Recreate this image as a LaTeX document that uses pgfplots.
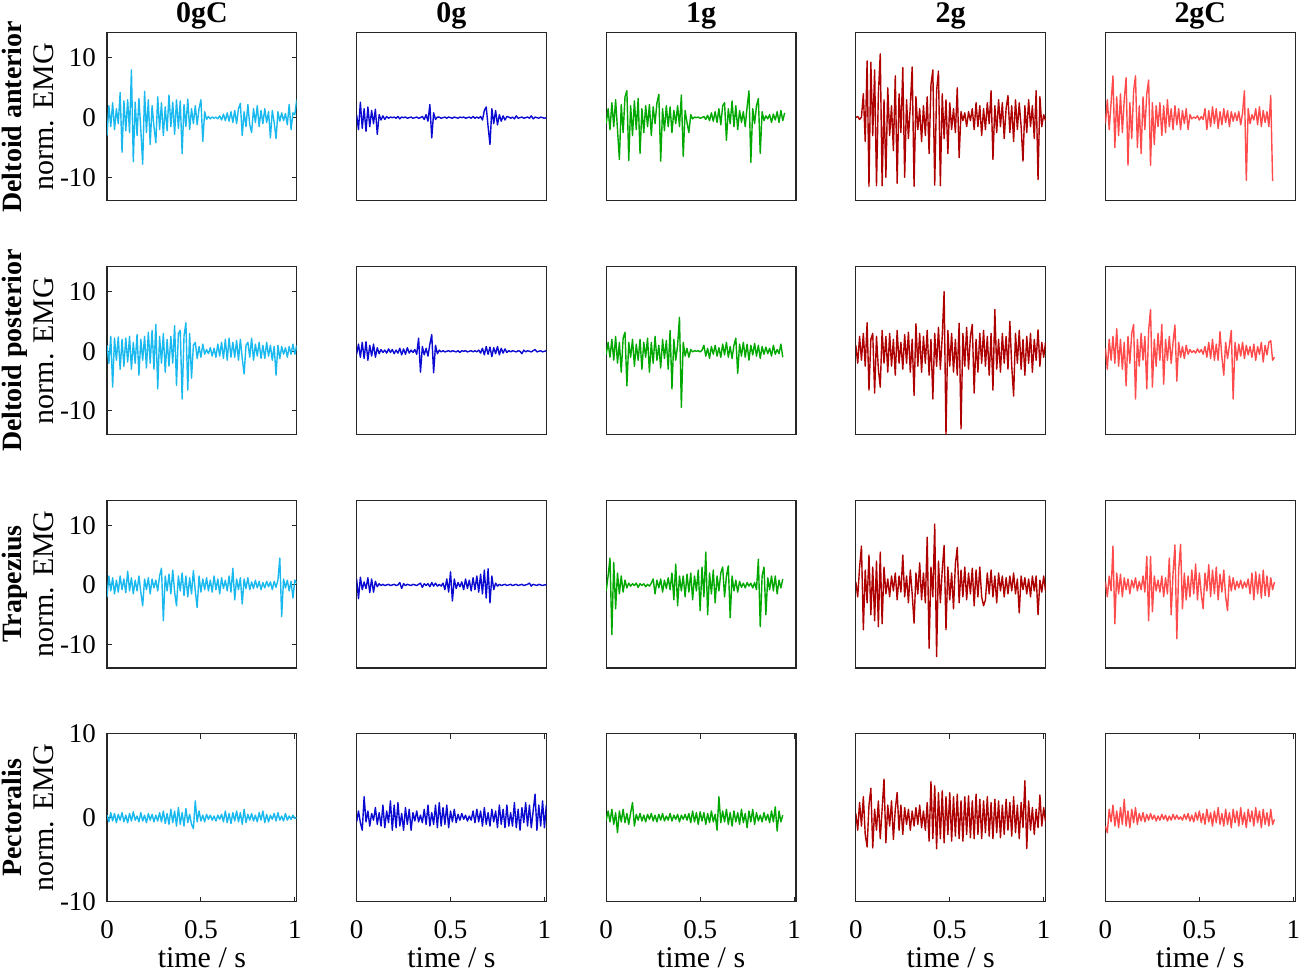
\documentclass[border=0pt]{standalone}
\usepackage{fontspec}
\setmainfont{Liberation Serif}
\usepackage{pgfplots}
\usepackage{pgfplotstable}
\pgfplotsset{compat=1.18}
\usepgfplotslibrary{groupplots}
\definecolor{cA}{RGB}{25,185,240}
\definecolor{cB}{RGB}{10,10,210}
\definecolor{cC}{RGB}{0,168,0}
\definecolor{cD}{RGB}{175,0,0}
\definecolor{cE}{RGB}{255,75,75}
\definecolor{axc}{RGB}{38,38,38}

\pgfplotstableread{
t a b c d e
0.00 -3.0 0.5 -1.0 0.0 -1.0
0.01 2.0 -2.0 1.5 0.2 3.0
0.02 -1.5 2.6 -2.0 -0.3 -2.0
0.03 2.5 -1.8 2.5 0.1 2.5
0.04 -2.0 1.5 -1.5 4.0 7.0
0.05 1.5 -2.3 3.0 -4.0 -5.0
0.06 -1.0 1.8 -2.0 9.5 3.5
0.07 4.2 -1.5 -7.0 -11.5 -3.0
0.08 -5.8 1.2 2.2 9.3 4.0
0.09 2.8 -1.0 -2.5 -3.0 -2.5
0.10 -2.2 1.4 3.5 8.0 3.0
0.11 3.0 -2.8 4.5 -11.4 6.7
0.12 -2.5 0.5 -7.2 4.0 -8.0
0.13 8.0 -0.4 2.0 10.7 2.5
0.14 -7.4 0.3 -3.0 -11.4 -3.5
0.15 2.6 -0.3 2.8 3.0 4.5
0.16 -3.0 0.2 -2.0 -10.0 7.0
0.17 3.2 -0.1 3.2 5.0 -5.0
0.18 -2.0 0.1 -6.0 -3.0 2.0
0.19 -7.8 0.0 1.5 2.0 -6.0
0.20 4.4 0.1 -2.5 -5.5 3.5
0.21 -2.5 -0.1 2.0 7.0 -2.0
0.22 3.0 0.2 -1.5 -11.0 4.0
0.23 -4.5 -0.2 2.2 4.0 6.3
0.24 2.0 0.1 -3.0 -2.5 -8.0
0.25 -1.5 0.0 1.8 8.4 2.5
0.26 -4.2 0.1 -1.0 -10.0 -4.5
0.27 3.5 -0.1 2.5 3.0 2.0
0.28 -2.0 0.0 3.9 -3.5 -1.5
0.29 2.5 0.1 -7.3 2.0 2.5
0.30 -3.0 -0.1 1.5 8.5 -3.0
0.31 1.8 0.0 -2.2 -11.5 2.0
0.32 -2.2 0.1 2.0 3.5 -2.5
0.33 3.8 -0.1 -1.5 -2.0 3.0
0.34 -1.5 0.0 1.8 1.5 -1.5
0.35 2.6 0.2 -2.5 -4.0 1.5
0.36 -2.8 -0.3 1.2 2.0 -2.0
0.37 3.0 0.5 -1.0 -3.0 2.0
0.38 -1.8 -0.6 2.0 3.5 -1.2
0.39 2.8 2.2 -1.5 -6.0 1.5
0.40 -6.0 -3.4 3.8 5.5 -2.0
0.41 2.2 0.8 -6.5 8.0 1.2
0.42 -1.5 -0.3 1.2 -11.3 -1.0
0.43 3.1 0.1 -0.8 4.5 1.5
0.44 -2.0 0.1 -2.5 7.8 -2.0
0.45 1.5 -0.1 0.5 -11.4 0.5
0.46 -1.0 0.0 -0.2 4.0 -0.2
0.47 2.0 0.1 0.1 -3.5 0.1
0.48 -1.2 -0.1 0.0 3.0 -0.1
0.49 1.5 0.1 0.1 -6.0 0.3
0.50 3.0 0.0 -0.1 2.5 -0.4
0.51 -4.0 -0.1 0.0 -2.0 0.2
0.52 1.0 0.1 0.2 1.5 -0.3
0.53 -0.3 0.0 -0.3 -2.5 1.5
0.54 0.2 -0.1 0.4 5.0 -2.0
0.55 -0.2 0.1 -0.5 -6.7 1.2
0.56 0.1 0.0 0.8 1.0 -1.5
0.57 -0.1 0.1 -0.6 -0.5 1.8
0.58 0.1 -0.1 1.0 0.8 -1.0
0.59 -0.2 0.0 -0.8 -1.5 1.5
0.60 0.3 0.1 1.5 1.0 -1.8
0.61 -0.4 -0.1 -1.2 -0.5 1.0
0.62 0.6 0.2 2.0 1.5 -1.2
0.63 -0.5 -0.1 2.5 -2.0 1.5
0.64 0.8 0.1 -3.8 2.5 -0.8
0.65 -0.6 -0.1 1.5 -1.5 1.2
0.66 1.0 0.2 -1.0 2.0 -1.5
0.67 -0.8 -0.4 2.8 -3.0 1.0
0.68 1.2 1.2 -1.5 1.5 -0.6
0.69 -1.0 1.8 2.0 -2.0 0.8
0.70 1.5 -1.5 -2.0 2.5 -0.5
0.71 2.4 -4.5 1.2 -1.0 1.0
0.72 -3.0 1.5 -0.8 4.5 -1.2
0.73 1.0 -1.0 1.0 -7.0 0.8
0.74 -1.5 1.2 -1.5 2.0 4.5
0.75 2.2 -1.2 1.8 -2.5 -10.5
0.76 -1.2 0.5 4.5 3.0 1.5
0.77 -2.5 -0.6 -7.5 -1.5 -1.0
0.78 1.5 0.3 1.5 2.5 0.5
0.79 -0.8 -0.4 -1.0 -3.5 -0.4
0.80 2.0 0.2 2.0 1.5 1.5
0.81 -1.5 0.1 3.2 3.7 -1.2
0.82 1.2 -0.1 -6.0 -2.5 1.8
0.83 -1.0 0.1 1.0 2.0 -1.5
0.84 1.5 -0.2 -0.5 -4.0 1.2
0.85 -0.8 0.3 0.3 3.0 -0.8
0.86 1.0 -0.1 -0.2 -2.0 1.0
0.87 -3.4 0.0 0.5 2.5 -1.5
0.88 1.2 0.1 -0.8 -1.5 3.7
0.89 -0.8 -0.1 0.6 -7.3 -10.6
0.90 -3.5 0.0 -0.4 2.0 nan
0.91 1.0 0.1 1.0 -2.5 nan
0.92 -0.6 -0.1 -0.8 3.0 nan
0.93 0.8 0.3 1.2 -1.5 nan
0.94 -0.5 -0.2 -0.5 2.0 nan
0.95 0.7 0.1 0.8 -3.5 nan
0.96 -1.2 0.0 nan 4.5 nan
0.97 2.2 -0.1 nan -10.4 nan
0.98 -2.0 0.1 nan 3.5 nan
0.99 0.8 0.0 nan -1.5 nan
1.00 0.5 -0.1 nan 0.5 nan
1.01 3.0 0.0 nan -0.5 nan
}\DA

\pgfplotstableread{
t a b c d e
0.00 1.0 -0.5 -0.5 1.0 0.5
0.01 -2.0 1.2 1.5 -2.0 -3.0
0.02 2.5 -1.0 -1.0 2.5 2.0
0.03 -6.0 1.5 2.0 -1.5 -1.5
0.04 2.2 -1.2 -1.5 3.0 2.5
0.05 -1.5 1.6 2.5 -2.5 -2.0
0.06 2.4 -1.5 -2.0 4.8 3.8
0.07 -3.0 1.0 1.5 -6.5 -2.5
0.08 2.0 -0.8 -3.5 2.0 2.0
0.09 -2.5 1.2 2.2 3.0 -3.0
0.10 2.2 -1.0 3.2 -7.0 1.5
0.11 -1.8 0.6 -5.8 2.5 -5.8
0.12 2.5 -0.4 1.5 -3.0 2.5
0.13 -3.0 0.3 -1.0 -6.0 -2.0
0.14 1.5 -0.2 2.0 3.5 3.0
0.15 -2.0 0.2 -2.5 -2.0 4.5
0.16 2.8 -0.3 1.2 2.5 -8.0
0.17 -4.0 0.4 -1.5 -3.5 2.0
0.18 2.0 -0.2 2.0 3.0 -2.5
0.19 -1.5 0.3 -3.0 -2.5 3.0
0.20 2.5 -0.4 1.5 2.0 -1.5
0.21 -2.8 0.2 -1.0 -4.0 2.5
0.22 3.2 -0.3 2.2 3.5 -6.3
0.23 -2.0 0.5 -3.5 -2.0 3.5
0.24 3.5 -0.6 1.5 1.5 7.0
0.25 -3.0 0.4 -2.0 -3.0 -6.0
0.26 4.5 -0.5 2.5 2.8 2.0
0.27 -6.3 0.6 -1.5 -2.0 -2.5
0.28 2.5 -0.3 1.0 3.2 3.0
0.29 -2.0 0.2 -2.8 -3.5 -1.5
0.30 3.0 -0.2 2.0 2.0 4.5
0.31 -3.5 0.3 -1.2 -7.4 -5.5
0.32 2.0 -0.5 1.8 4.6 2.0
0.33 -2.5 2.2 -3.0 -2.5 -1.5
0.34 2.5 -3.5 3.5 3.0 2.5
0.35 -2.0 0.8 -6.3 -3.5 -2.0
0.36 4.3 -0.6 2.0 2.5 1.5
0.37 -5.7 0.5 -1.5 -2.0 4.4
0.38 3.0 -0.8 1.0 3.5 -5.0
0.39 3.5 1.2 5.7 -4.0 1.5
0.40 -8.0 2.8 -9.4 2.0 -1.0
0.41 2.5 -3.6 1.5 -8.0 0.8
0.42 4.8 1.0 -0.8 3.0 -1.2
0.43 -6.5 -0.4 0.5 -2.5 1.0
0.44 3.0 0.2 -1.0 4.0 -0.5
0.45 -4.5 -0.1 0.3 -3.0 0.3
0.46 1.0 0.1 -0.1 2.5 -0.2
0.47 1.5 -0.1 0.1 10.0 0.1
0.48 -1.2 0.0 0.0 -14.0 -0.3
0.49 0.8 0.1 0.1 3.5 0.4
0.50 -1.0 -0.1 -0.1 -2.5 -0.2
0.51 1.2 0.1 0.2 3.0 0.3
0.52 -0.5 0.0 1.0 -3.5 -0.5
0.53 0.3 -0.1 -0.8 2.0 0.8
0.54 -0.4 0.1 0.5 -4.0 -1.0
0.55 0.6 -0.2 -1.2 4.7 1.5
0.56 -0.8 0.1 0.8 -13.0 -1.2
0.57 0.5 0.0 -0.5 3.0 2.0
0.58 -1.0 0.1 1.0 -2.5 -1.5
0.59 1.2 -0.1 -0.8 4.0 1.2
0.60 -0.8 0.0 0.6 -3.0 -1.5
0.61 1.5 0.1 -1.0 2.5 3.3
0.62 -1.2 -0.1 1.2 4.5 -1.0
0.63 2.0 0.1 -0.6 -7.0 -4.0
0.64 -1.5 -0.1 1.5 2.0 1.5
0.65 2.2 0.2 -1.0 -3.5 -1.2
0.66 -1.0 -0.3 0.8 3.0 1.0
0.67 1.5 0.5 -1.2 -2.0 3.5
0.68 -1.0 -0.6 1.0 3.5 -8.0
0.69 1.8 0.8 2.2 -2.5 1.5
0.70 -1.5 -0.5 -3.7 2.5 -1.5
0.71 2.0 0.7 1.2 -4.0 1.2
0.72 -1.2 -0.9 -0.8 3.0 -0.8
0.73 -3.8 0.6 1.5 -6.5 1.5
0.74 1.0 -0.4 -1.0 7.0 -1.2
0.75 1.5 0.8 1.2 -3.0 1.0
0.76 -1.0 -0.6 -1.5 2.0 -0.6
0.77 2.2 0.5 1.0 -3.5 0.8
0.78 -1.5 -0.3 -0.6 3.0 -1.0
0.79 1.2 0.4 1.3 -2.0 1.2
0.80 -0.8 -0.2 -0.8 2.5 -1.5
0.81 1.5 0.1 1.0 -3.0 0.8
0.82 -1.2 -0.1 -1.2 5.0 -0.5
0.83 1.0 0.1 0.8 -2.5 1.5
0.84 -1.2 0.0 -0.5 -7.5 -1.8
0.85 1.5 -0.1 0.7 3.0 1.0
0.86 -0.8 0.1 -0.4 -2.0 -0.6
0.87 1.0 0.0 0.5 3.5 1.5
0.88 -1.5 -0.4 -0.8 -3.0 1.8
0.89 0.8 0.2 1.0 2.0 -1.5
0.90 -4.0 -0.1 -0.5 -4.0 -1.0
0.91 1.0 0.1 0.3 2.5 nan
0.92 -1.2 0.0 -0.4 -2.0 nan
0.93 0.8 -0.1 1.2 3.0 nan
0.94 -0.5 0.1 -1.0 -3.5 nan
0.95 0.6 0.3 nan 2.0 nan
0.96 -1.0 -0.1 nan -1.5 nan
0.97 0.8 0.0 nan 3.6 nan
0.98 -0.5 0.1 nan -2.5 nan
0.99 1.2 -0.1 nan 1.5 nan
1.00 -0.5 0.0 nan -1.0 nan
1.01 1.0 0.1 nan 1.5 nan
}\DP

\pgfplotstableread{
t a b c d e
0.00 -2.0 1.0 -1.0 0.5 0.5
0.01 1.5 -2.3 1.5 -2.0 -2.0
0.02 -1.0 1.3 4.5 3.0 1.5
0.03 1.2 -0.8 -8.3 6.5 -1.0
0.04 -1.5 0.5 3.8 -7.5 6.5
0.05 0.8 -0.6 -4.0 2.5 -6.5
0.06 -1.2 1.2 2.0 -3.0 2.0
0.07 1.5 -1.3 -1.5 5.0 -1.5
0.08 -0.8 1.0 1.5 -5.0 1.8
0.09 1.0 -1.2 -1.2 3.0 -2.0
0.10 -1.3 0.6 0.8 -6.0 1.2
0.11 2.3 -0.3 -0.5 4.0 -0.8
0.12 -1.0 0.2 0.3 -7.0 1.0
0.13 1.2 -0.1 -0.2 5.5 -1.5
0.14 -1.5 0.1 0.2 -6.5 0.8
0.15 0.8 -0.1 -0.1 3.0 -0.5
0.16 -1.0 0.0 0.3 -1.5 1.2
0.17 1.5 0.1 -0.4 1.0 -1.0
0.18 -1.2 -0.1 0.2 -2.0 0.6
0.19 -3.5 0.0 -0.1 1.5 -0.8
0.20 1.0 0.1 0.2 -1.0 1.5
0.21 -0.8 -0.1 -0.3 2.0 -1.2
0.22 1.2 0.0 0.1 -2.5 4.8
0.23 -1.5 0.4 -0.2 1.5 -6.0
0.24 1.0 -0.6 0.3 -1.2 4.8
0.25 -0.5 0.2 1.0 5.0 -4.5
0.26 0.8 -0.1 -1.5 -2.0 1.5
0.27 -1.0 0.1 0.8 1.5 -1.0
0.28 1.5 0.0 -0.5 -3.0 0.8
0.29 2.8 -0.1 1.0 2.5 -1.2
0.30 -6.0 0.1 -1.2 -1.5 1.5
0.31 1.5 0.0 0.8 -6.4 -2.0
0.32 -1.0 -0.1 -0.6 2.0 1.2
0.33 1.8 0.1 1.2 -1.5 -1.5
0.34 -1.5 0.3 -0.8 3.7 4.5
0.35 2.5 -0.4 2.0 -2.5 -5.0
0.36 -1.2 0.2 -2.5 2.0 2.0
0.37 -3.5 -0.1 3.5 -3.0 6.7
0.38 1.5 0.2 -3.5 8.0 -9.0
0.39 -1.0 -0.3 1.5 -10.6 2.5
0.40 2.0 0.4 -1.0 3.0 6.8
0.41 -1.8 -0.2 1.5 -2.0 -4.0
0.42 1.5 0.3 -2.0 10.2 2.0
0.43 -2.0 -0.2 1.8 -12.0 -2.5
0.44 1.2 0.1 -1.2 4.0 1.5
0.45 -1.5 -0.2 2.0 -3.0 -2.0
0.46 2.4 0.3 -2.5 2.5 2.5
0.47 -1.0 -0.8 1.5 6.6 -1.5
0.48 -3.8 1.0 -1.0 -7.5 3.5
0.49 1.5 -1.2 2.5 3.0 -2.5
0.50 -1.2 2.2 -4.3 -2.5 2.0
0.51 1.0 -2.7 3.0 2.0 -1.5
0.52 -0.8 1.0 -2.0 -4.0 -4.0
0.53 1.2 -0.6 5.5 3.5 2.0
0.54 -1.0 0.4 -5.0 6.3 -1.0
0.55 0.8 -0.3 2.0 -3.0 3.4
0.56 -1.2 0.5 -1.5 2.5 -2.0
0.57 1.5 -0.8 2.5 -2.0 2.5
0.58 -0.8 1.0 -3.0 3.0 -1.5
0.59 1.0 -0.6 1.5 -2.5 3.0
0.60 -1.5 0.8 -1.0 2.0 -2.5
0.61 1.2 -1.0 2.0 -1.5 1.8
0.62 -0.6 1.2 3.0 2.8 -1.2
0.63 0.8 -0.8 -2.0 -3.5 2.5
0.64 -1.0 1.5 1.5 2.5 -2.0
0.65 1.5 -1.2 3.2 -2.0 -4.3
0.66 -1.2 1.8 -5.5 3.0 1.5
0.67 2.8 -1.5 1.5 -2.0 -1.0
0.68 -2.5 2.5 -1.0 -3.5 1.2
0.69 1.0 -2.2 0.8 -2.5 -0.8
0.70 -0.8 2.7 -1.2 2.0 0.6
0.71 1.2 -3.0 0.6 -1.5 -0.5
0.72 -3.2 1.5 -0.4 2.5 0.8
0.73 1.0 -0.8 0.3 -2.0 -0.6
0.74 -0.6 0.3 -0.5 1.5 0.5
0.75 1.2 -0.2 0.4 -3.0 -0.4
0.76 -0.8 0.1 -0.2 2.0 1.0
0.77 0.5 -0.1 0.3 -1.0 -1.5
0.78 -0.6 0.0 -0.5 1.5 2.0
0.79 0.8 0.1 0.4 -2.0 -2.5
0.80 -0.5 -0.1 -0.8 1.2 2.2
0.81 0.6 0.0 4.3 -1.5 -1.5
0.82 -0.8 0.1 -7.0 1.5 1.8
0.83 0.4 -0.1 1.5 -1.0 -2.2
0.84 -0.5 0.0 3.0 2.0 2.5
0.85 0.6 0.1 -5.0 -1.5 -1.8
0.86 -0.3 -0.1 1.2 1.0 1.5
0.87 0.5 0.0 -0.8 -4.7 -2.0
0.88 -0.8 0.1 1.5 1.5 1.2
0.89 0.6 -0.1 -1.0 -0.8 -0.8
0.90 -0.4 0.0 1.5 1.2 0.5
0.91 0.8 0.1 -1.5 -1.5 nan
0.92 4.5 0.3 0.8 1.0 nan
0.93 -5.3 -0.2 -0.5 -2.0 nan
0.94 1.0 0.1 1.0 1.5 nan
0.95 -0.5 0.0 nan -1.0 nan
0.96 0.8 -0.1 nan 1.5 nan
0.97 -1.0 0.1 nan -5.0 nan
0.98 0.6 0.0 nan 0.8 nan
0.99 -2.2 -0.1 nan -1.2 nan
1.00 0.8 0.0 nan 1.5 nan
1.01 0.3 0.0 nan -1.0 nan
}\TR

\pgfplotstableread{
t a b c d e
0.00 0.3 -0.5 -0.3 0.5 -1.0
0.01 -0.5 0.8 0.8 -1.5 -1.8
0.02 0.6 -0.6 -0.5 1.8 1.0
0.03 -0.4 -1.5 1.0 -1.0 -0.5
0.04 0.5 2.5 -0.8 2.5 1.5
0.05 -0.6 -0.5 0.6 -2.0 -1.0
0.06 0.4 0.8 -1.8 -3.5 0.8
0.07 -0.3 -1.0 0.8 1.5 -1.2
0.08 0.6 0.5 -0.5 3.5 1.2
0.09 -0.5 -0.3 1.0 -3.6 -0.8
0.10 0.3 1.2 -0.6 1.0 2.2
0.11 -0.6 -0.8 0.5 -1.5 -1.0
0.12 0.5 0.6 -0.8 2.0 0.8
0.13 -0.4 -1.0 0.6 -2.5 -1.2
0.14 0.7 1.5 1.8 1.0 1.0
0.15 -0.3 -1.2 -1.0 4.6 -0.6
0.16 0.2 0.8 0.4 -3.0 1.2
0.17 -0.5 -0.6 -0.3 1.5 -0.8
0.18 0.6 2.0 0.5 -1.0 0.5
0.19 -0.4 -1.5 -0.4 2.0 -0.4
0.20 0.3 1.5 0.3 -2.6 0.6
0.21 -0.6 -1.2 -0.5 1.0 -0.5
0.22 0.5 1.8 0.4 3.0 0.4
0.23 -0.3 -1.0 -0.2 -1.5 -0.3
0.24 0.4 0.5 0.5 1.5 0.5
0.25 -0.5 -1.5 -0.4 -2.0 -0.2
0.26 0.3 1.2 0.3 1.2 0.3
0.27 -0.4 -0.8 -0.5 -0.8 -0.4
0.28 0.6 1.0 0.4 1.0 0.2
0.29 -0.5 -1.5 -0.3 -1.5 -0.3
0.30 0.8 0.6 0.5 0.8 0.4
0.31 -0.7 -0.4 -0.4 -1.0 -0.2
0.32 0.5 0.8 0.2 1.2 0.3
0.33 -0.8 -0.5 -0.3 -0.8 -0.4
0.34 1.0 0.3 0.5 1.5 0.2
0.35 -0.6 -0.6 -0.4 -1.2 -0.3
0.36 0.8 1.0 0.3 0.8 0.4
0.37 -1.0 -0.8 -0.2 -1.5 -0.2
0.38 1.2 1.5 0.4 1.8 0.3
0.39 -0.8 -1.0 -0.5 -2.8 -0.2
0.40 0.6 0.6 0.3 4.3 0.1
0.41 -1.0 -0.8 -0.2 -2.5 -0.3
0.42 1.1 1.5 0.4 3.8 0.4
0.43 -0.6 -1.2 -0.3 -3.7 -0.2
0.44 0.4 1.8 0.5 3.0 0.5
0.45 -0.8 -1.0 -0.6 -2.5 -0.4
0.46 -1.3 1.2 0.8 3.2 0.3
0.47 2.0 -0.8 -0.5 -3.0 -0.5
0.48 -0.5 1.5 0.6 2.5 0.6
0.49 0.8 -1.2 -0.8 -2.0 -0.3
0.50 -0.4 0.8 0.7 3.0 0.8
0.51 0.3 -0.5 -0.4 -2.8 -0.6
0.52 -0.5 1.0 0.6 2.5 0.5
0.53 0.4 -0.6 -0.8 -2.2 -0.8
0.54 -0.2 0.4 0.5 2.8 1.0
0.55 0.3 -0.3 -0.6 -2.5 -0.5
0.56 -0.3 0.5 0.8 2.0 0.6
0.57 0.2 -0.2 -0.5 -2.8 -1.0
0.58 -0.4 0.3 0.4 2.5 0.8
0.59 0.3 -0.4 -1.5 -2.0 -0.6
0.60 -0.2 0.2 2.5 2.6 1.2
0.61 0.4 -0.3 -0.6 -2.4 -0.8
0.62 -0.5 0.8 0.8 2.0 0.5
0.63 0.8 -0.6 -0.5 -2.5 -1.0
0.64 -0.6 1.0 1.0 2.8 1.0
0.65 0.5 -0.5 -0.8 -2.0 -0.8
0.66 -0.7 0.8 0.6 2.2 0.6
0.67 0.6 -1.0 -1.0 -2.5 -1.2
0.68 -0.4 1.2 0.8 2.0 1.0
0.69 0.8 -0.8 -0.5 -1.8 -0.6
0.70 -0.5 0.6 0.6 2.5 0.8
0.71 0.6 -1.0 -0.8 -2.2 -1.0
0.72 -0.8 1.0 1.0 1.8 1.2
0.73 1.0 -0.5 -0.6 -2.5 -0.8
0.74 -0.6 0.8 0.5 2.2 0.6
0.75 0.4 -1.2 -1.2 -1.8 -1.2
0.76 -0.3 1.5 0.8 2.0 1.0
0.77 0.5 -0.8 -0.5 -2.4 -0.5
0.78 -0.4 1.0 1.0 1.5 0.8
0.79 0.3 -1.2 -0.8 -2.0 -1.0
0.80 -0.5 1.5 0.6 2.2 1.2
0.81 0.6 -1.0 -0.4 -1.5 -0.6
0.82 -0.3 0.6 0.3 1.8 0.8
0.83 0.8 -1.0 -0.5 -2.2 -1.2
0.84 -0.6 1.8 0.6 2.5 1.0
0.85 0.4 -1.2 -0.3 -1.8 -0.8
0.86 -0.5 1.0 0.4 1.5 0.6
0.87 0.3 -1.5 -0.6 -2.5 -1.0
0.88 -0.2 1.2 0.8 1.8 1.0
0.89 0.5 -0.6 -0.5 -1.2 -0.8
0.90 -0.4 1.8 1.3 4.4 -0.2
0.91 0.6 -1.0 -1.6 -3.7 nan
0.92 -0.3 1.5 0.8 2.0 nan
0.93 0.2 -1.2 -0.5 -1.5 nan
0.94 -0.4 0.8 0.3 1.2 nan
0.95 0.5 2.8 nan -2.0 nan
0.96 -0.3 -1.5 nan 1.0 nan
0.97 0.2 1.5 nan -1.2 nan
0.98 -0.2 -1.0 nan 2.7 nan
0.99 0.3 2.0 nan -1.0 nan
1.00 -0.1 -1.2 nan 1.2 nan
1.01 0.0 1.5 nan -0.5 nan
}\PE

\pgfplotsset{
  rowhi/.style={ymin=-13.9, ymax=14.2},
  rowlo/.style={ymin=-10, ymax=10},
  firstcol/.style={ytick={-10,0,10}, yticklabels={-10,0,10}},
  lastrow/.style={xtick={0,0.5,1}, xticklabels={0,0.5,1}, xlabel={time / s}},
  sig/.style={line width=0.7pt, line join=round},
}
\newcommand{\ml}[1]{{\fontsize{14}{16}\selectfont\bfseries #1}}

\begin{document}
\begin{tikzpicture}
\begin{groupplot}[
  group style={group size=5 by 4, horizontal sep=30pt, vertical sep=33pt},
  scale only axis, width=95pt, height=84pt,
  xmin=0, xmax=1.01,
  xtick=\empty, ytick=\empty,
  tick align=inside, major tick length=2.5pt,
  tick style={axc, line width=0.5pt},
  axis line style={axc, line width=0.6pt},
  tick label style={font=\fontsize{13.5}{16}\selectfont},
  xticklabel style={yshift=-6pt, overlay},
  yticklabel style={xshift=-2pt},
  label style={font=\fontsize{15}{16}\selectfont},
  title style={font=\fontsize{15}{17}\selectfont\bfseries, at={(0.5,1)}, anchor=base, yshift=-1pt, inner sep=1.5pt},
  ylabel style={align=center, at={(axis description cs:-0.268,0.5)}, anchor=south, inner sep=1pt},
  xlabel style={at={(axis description cs:0.5,0)}, anchor=base, yshift=-33pt, inner sep=2.5pt},
]
% Row 1
\nextgroupplot[rowhi, firstcol, title={0gC}, ylabel={\ml{Deltoid anterior}\\norm. EMG}]
\addplot[cA, sig] table[x=t, y=a] {\DA};
\nextgroupplot[rowhi, title={0g}]
\addplot[cB, sig] table[x=t, y=b] {\DA};
\nextgroupplot[rowhi, title={1g}]
\addplot[cC, sig] table[x=t, y=c] {\DA};
\nextgroupplot[rowhi, title={2g}]
\addplot[cD, sig] table[x=t, y=d] {\DA};
\nextgroupplot[rowhi, title={2gC}]
\addplot[cE, sig] table[x=t, y=e] {\DA};
% Row 2
\nextgroupplot[rowhi, firstcol, ylabel={\ml{Deltoid posterior}\\norm. EMG}]
\addplot[cA, sig] table[x=t, y=a] {\DP};
\nextgroupplot[rowhi]
\addplot[cB, sig] table[x=t, y=b] {\DP};
\nextgroupplot[rowhi]
\addplot[cC, sig] table[x=t, y=c] {\DP};
\nextgroupplot[rowhi]
\addplot[cD, sig] table[x=t, y=d] {\DP};
\nextgroupplot[rowhi]
\addplot[cE, sig] table[x=t, y=e] {\DP};
% Row 3
\nextgroupplot[rowhi, firstcol, ylabel={\ml{Trapezius}\\norm. EMG}]
\addplot[cA, sig] table[x=t, y=a] {\TR};
\nextgroupplot[rowhi]
\addplot[cB, sig] table[x=t, y=b] {\TR};
\nextgroupplot[rowhi]
\addplot[cC, sig] table[x=t, y=c] {\TR};
\nextgroupplot[rowhi]
\addplot[cD, sig] table[x=t, y=d] {\TR};
\nextgroupplot[rowhi]
\addplot[cE, sig] table[x=t, y=e] {\TR};
% Row 4
\nextgroupplot[rowlo, firstcol, lastrow, ylabel={\ml{Pectoralis}\\norm. EMG}]
\addplot[cA, sig] table[x=t, y=a] {\PE};
\nextgroupplot[rowlo, lastrow]
\addplot[cB, sig] table[x=t, y=b] {\PE};
\nextgroupplot[rowlo, lastrow]
\addplot[cC, sig] table[x=t, y=c] {\PE};
\nextgroupplot[rowlo, lastrow]
\addplot[cD, sig] table[x=t, y=d] {\PE};
\nextgroupplot[rowlo, lastrow, xticklabel style={overlay=false, inner xsep=0pt}]
\addplot[cE, sig] table[x=t, y=e] {\PE};
\end{groupplot}
\end{tikzpicture}
\end{document}
